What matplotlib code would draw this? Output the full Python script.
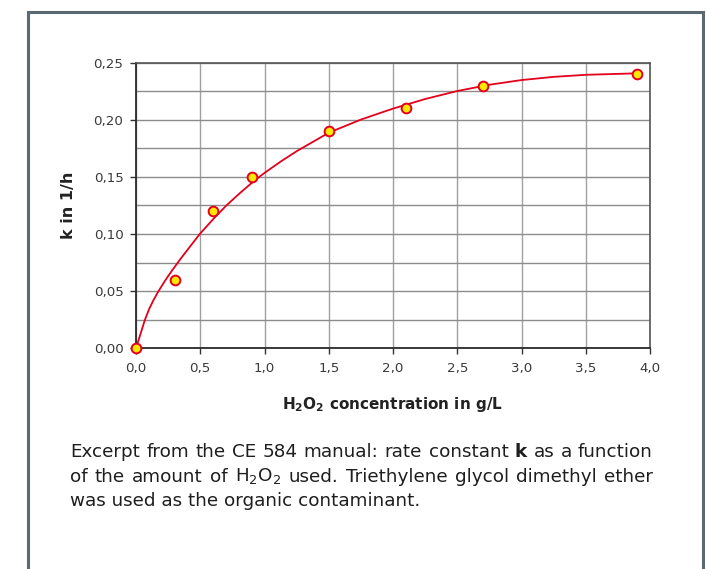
import matplotlib
matplotlib.use("Agg")
import matplotlib.pyplot as plt
from matplotlib.patches import Rectangle
from matplotlib.ticker import MultipleLocator, FixedFormatter, FixedLocator

plt.rcParams["font.family"] = ["DejaVu Sans"]
plt.rcParams["mathtext.fontset"] = "dejavusans"

# measured rate constants
h2o2_conc = [0.0, 0.3, 0.6, 0.9, 1.5, 2.1, 2.7, 3.9]
rate_k = [0.0, 0.06, 0.12, 0.15, 0.19, 0.21, 0.23, 0.24]

# fitted trend curve
fit_x = [0.0, 0.02, 0.045, 0.068, 0.1, 0.135, 0.175, 0.225, 0.28, 0.34, 0.42,
         0.496, 0.6, 0.703, 0.81, 0.924, 1.0, 1.125, 1.25, 1.5, 1.75, 2.0, 2.25,
         2.5, 2.75, 3.0, 3.25, 3.5, 3.9]
fit_k = [0.0, 0.0072, 0.0162, 0.0245, 0.0338, 0.042, 0.05, 0.059, 0.068, 0.0773, 0.089,
         0.1, 0.113, 0.125, 0.136, 0.147, 0.1535, 0.1634, 0.1725, 0.1887, 0.2002,
         0.2098, 0.2182, 0.2252, 0.2307, 0.2348, 0.2376, 0.2394, 0.2407]

x_ticks = [0.0, 0.5, 1.0, 1.5, 2.0, 2.5, 3.0, 3.5, 4.0]
y_ticks = [0.0, 0.05, 0.10, 0.15, 0.20, 0.25]

caption_lines = [
    [("Excerpt", "normal"), ("from", "normal"), ("the", "normal"), ("CE", "normal"),
     ("584", "normal"), ("manual:", "normal"), ("rate", "normal"), ("constant", "normal"),
     ("k", "bold"), ("as", "normal"), ("a", "normal"), ("function", "normal")],
    [("of", "normal"), ("the", "normal"), ("amount", "normal"), ("of", "normal"),
     ("H$_2$O$_2$", "normal"), ("used.", "normal"), ("Triethylene", "normal"),
     ("glycol", "normal"), ("dimethyl", "normal"), ("ether", "normal")],
    [("was used as the organic contaminant.", "normal")],
]

W, H = 706, 569
fig = plt.figure(figsize=(W / 100, H / 100), dpi=100)

# outer box around chart and caption
fig.patches.append(Rectangle((28 / W, -0.1), (703 - 28) / W, 1.1 - 12 / H,
                             transform=fig.transFigure, fill=False,
                             edgecolor="#5b6a72", linewidth=2.2))

ax = fig.add_axes([136 / W, 1 - 348.3 / H, (650 - 136) / W, (348.3 - 62.7) / H])
ax.set_xlim(0, 4.0)
ax.set_ylim(0, 0.25)

ax.xaxis.set_major_locator(FixedLocator(x_ticks))
ax.xaxis.set_major_formatter(FixedFormatter([f"{v:.1f}".replace(".", ",") for v in x_ticks]))
ax.yaxis.set_major_locator(FixedLocator(y_ticks))
ax.yaxis.set_major_formatter(FixedFormatter([f"{v:.2f}".replace(".", ",") for v in y_ticks]))
ax.yaxis.set_minor_locator(MultipleLocator(0.025))

ax.grid(which="both", axis="y", color="#8c8c8c", linewidth=1.0)
ax.grid(which="major", axis="x", color="#a0a0a0", linewidth=1.0)
ax.tick_params(which="minor", length=0)
ax.tick_params(which="major", length=4, width=1, color="#333333",
               labelsize=9.6, labelcolor="#3a3a3a", pad=5)
ax.tick_params(axis="x", pad=6)
for side in ("left", "bottom"):
    ax.spines[side].set_color("#2a2a2a")
    ax.spines[side].set_linewidth(1.3)
for side in ("top", "right"):
    ax.spines[side].set_color("#555555")
    ax.spines[side].set_linewidth(1.2)
ax.set_axisbelow(True)

ax.plot(fit_x, fit_k, color="#e3001b", linewidth=1.3, zorder=3)
ax.plot(h2o2_conc, rate_k, linestyle="none", marker="o", markersize=7,
        markerfacecolor="#ffe800", markeredgecolor="#e3001b", markeredgewidth=1.4,
        zorder=4, clip_on=False)

ax.set_ylabel("k in 1/h", fontsize=11.5, fontweight="bold", color="#222222", labelpad=13)
ax.set_xlabel(r"H$_\mathbf{2}$O$_\mathbf{2}$ concentration in g/L", fontsize=11,
              fontweight="bold", color="#222222", labelpad=14)

# justified caption, word by word
renderer = fig.canvas.get_renderer()
left, right = 70 / W, 653 / W
baselines = [457, 481.5, 506]
for i, (words, base) in enumerate(zip(caption_lines, baselines)):
    y = 1 - base / H
    texts = [fig.text(0, y, w, fontsize=13.2, fontweight=wt, color="#1e1e1e",
                      va="baseline", ha="left") for w, wt in words]
    widths = [t.get_window_extent(renderer).width / W for t in texts]
    if i < len(caption_lines) - 1 and len(texts) > 1:
        gap = (right - left - sum(widths)) / (len(texts) - 1)
    else:
        gap = 0
    x = left
    for t, w in zip(texts, widths):
        t.set_x(x)
        x += w + gap

fig.savefig("out.png", dpi=100)
